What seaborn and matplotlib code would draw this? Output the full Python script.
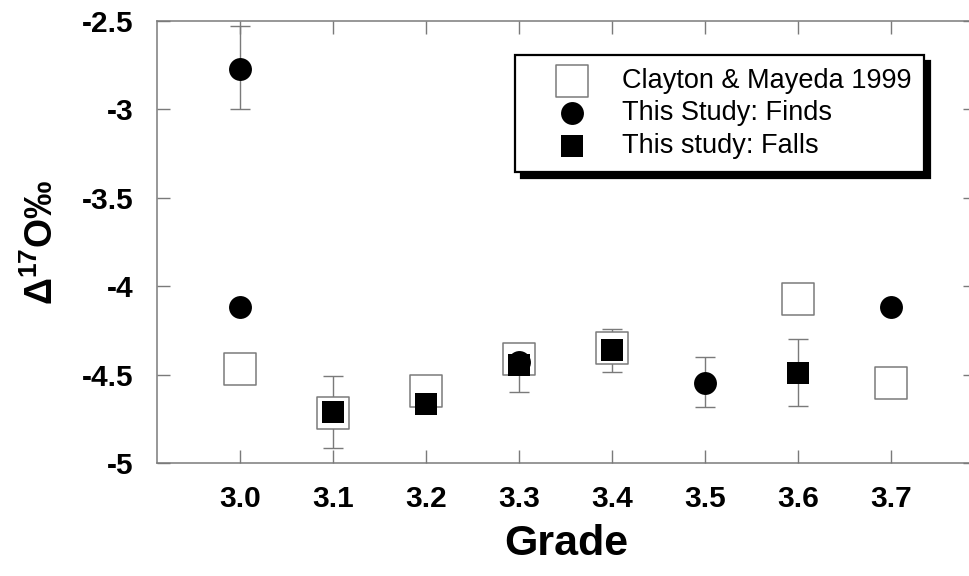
import matplotlib
matplotlib.use("Agg")
import matplotlib.pyplot as plt
import seaborn as sns
import pandas as pd

# ---- data ----
clayton_grade = [3.0, 3.1, 3.2, 3.3, 3.4, 3.6, 3.7]
clayton_d17 = [-4.47, -4.72, -4.59, -4.41, -4.35, -4.07, -4.55]

finds_grade = [3.0, 3.0, 3.3, 3.5, 3.7]
finds_d17 = [-2.77, -4.12, -4.43, -4.545, -4.12]
finds_err_lo = [0.23, 0.0, 0.0, 0.14, 0.0]
finds_err_hi = [0.24, 0.0, 0.0, 0.145, 0.0]

falls_grade = [3.1, 3.2, 3.3, 3.4, 3.6]
falls_d17 = [-4.71, -4.667, -4.445, -4.36, -4.49]
falls_err_lo = [0.205, 0.0, 0.155, 0.125, 0.19]
falls_err_hi = [0.20, 0.0, 0.02, 0.12, 0.19]

xticks = [3.0, 3.1, 3.2, 3.3, 3.4, 3.5, 3.6, 3.7]
xticklabels = ["3.0", "3.1", "3.2", "3.3", "3.4", "3.5", "3.6", "3.7"]
yticks = [-5, -4.5, -4, -3.5, -3, -2.5]
yticklabels = ["-5", "-4.5", "-4", "-3.5", "-3", "-2.5"]

labels = ["Clayton & Mayeda 1999", "This Study: Finds", "This study: Falls"]

sns.set_theme(style="white")
plt.rcParams['font.family'] = ['Liberation Sans', 'DejaVu Sans']
plt.rcParams['mathtext.fontset'] = 'custom'
plt.rcParams['mathtext.rm'] = 'Liberation Sans:bold'
plt.rcParams['mathtext.bf'] = 'Liberation Sans:bold'
plt.rcParams['mathtext.it'] = 'Liberation Sans:bold'
plt.rcParams['text.color'] = 'black'
plt.rcParams['axes.labelcolor'] = 'black'
plt.rcParams['xtick.color'] = 'black'
plt.rcParams['ytick.color'] = 'black'

W, H = 969, 576
fig = plt.figure(figsize=(W / 100, H / 100), dpi=100)
ax = fig.add_axes([157 / W, 1 - 463 / H, (976 - 157) / W, (463 - 21) / H])

grey = "#7a7a7a"

cl = pd.DataFrame({"grade": clayton_grade, "d17": clayton_d17})
fi = pd.DataFrame({"grade": finds_grade, "d17": finds_d17})
fa = pd.DataFrame({"grade": falls_grade, "d17": falls_d17})

# error bars
ax.errorbar(finds_grade, finds_d17, yerr=[finds_err_lo, finds_err_hi], fmt="none",
            ecolor=grey, elinewidth=1.0, capsize=7, capthick=1.0, zorder=1)
ax.errorbar(falls_grade, falls_d17, yerr=[falls_err_lo, falls_err_hi], fmt="none",
            ecolor=grey, elinewidth=1.0, capsize=7, capthick=1.0, zorder=1)

sns.scatterplot(data=cl, x="grade", y="d17", marker="s", s=530, facecolor="white",
                edgecolor=grey, linewidth=1.1, ax=ax, zorder=2, label=labels[0])
sns.scatterplot(data=fi, x="grade", y="d17", marker="o", s=272, color="black",
                edgecolor="black", linewidth=0, ax=ax, zorder=3, label=labels[1])
sns.scatterplot(data=fa, x="grade", y="d17", marker="s", s=272, color="black",
                edgecolor="black", linewidth=0, ax=ax, zorder=4, label=labels[2])

ax.set_xlim(2.9108, 3.791)
ax.set_ylim(-5, -2.5)
ax.set_xticks(xticks)
ax.set_xticklabels(xticklabels, fontsize=21.5, fontweight="bold")
ax.set_yticks(yticks)
ax.set_yticklabels(yticklabels, fontsize=21.5, fontweight="bold")
ax.tick_params(axis="x", direction="in", length=9.5, width=1.0, color=grey,
               labelcolor="black", top=True, bottom=True, pad=16)
ax.tick_params(axis="y", direction="in", length=9.5, width=1.0, color=grey,
               labelcolor="black", left=True, right=True, pad=17)
for sp in ax.spines.values():
    sp.set_color(grey)
    sp.set_linewidth(1.1)

ax.set_xlabel("Grade", fontsize=31, fontweight="bold", labelpad=8, color="black")
ax.set_ylabel(r"$\Delta^{17}$O‰", fontsize=27, fontweight="bold", color="black")
ax.yaxis.set_label_coords(-0.117, 0.5)

leg = ax.legend(loc="upper left", bbox_to_anchor=(515 / W, 1 - 55 / H),
                bbox_transform=fig.transFigure, borderaxespad=0, frameon=True,
                fancybox=False, fontsize=19.5, handlelength=3.26, handletextpad=0.22,
                borderpad=0.47, labelspacing=0.25,
                shadow={"color": "black", "alpha": 1, "ox": 4.5, "oy": -4.5})
frame = leg.get_frame()
frame.set_edgecolor("black")
frame.set_linewidth(1.6)
frame.set_alpha(1)
for t in leg.get_texts():
    t.set_color("black")

fig.savefig("out.png", dpi=100)
